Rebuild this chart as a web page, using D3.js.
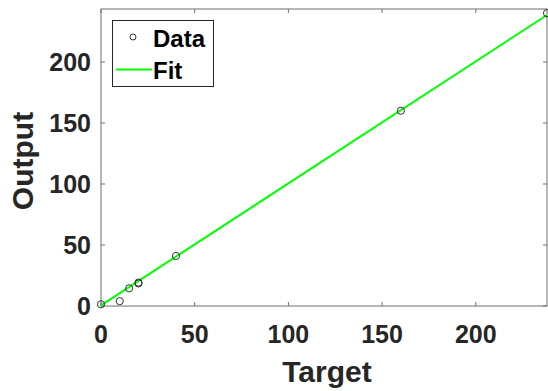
<!DOCTYPE html>
<html>
<head>
<meta charset="utf-8">
<script src="https://cdn.jsdelivr.net/npm/d3@7"></script>
<style>
  body { margin: 0; background: #fff; }
  text { font-family: "Liberation Sans", Arial, sans-serif; font-weight: bold; fill: #262626; }
</style>
</head>
<body>
<div id="chart"></div>
<script>
var targets = [0, 10, 15, 20, 20, 40, 160, 238];
var outputs = [1.4, 4, 14.5, 18.5, 19.2, 41, 160, 240];
var fitSlope = 1.0, fitIntercept = 0.5;
var xTicks = [0, 50, 100, 150, 200];
var yTicks = [0, 50, 100, 150, 200];
var xMax = 238, yMax = 243.4;

var width = 548, height = 391;
var plotL = 101, plotR = 547, plotT = 9, plotB = 306;

var svg = d3.select("#chart").append("svg")
    .attr("width", width)
    .attr("height", height);

var x = d3.scaleLinear().domain([0, xMax]).range([plotL, plotR]);
var y = d3.scaleLinear().domain([0, yMax]).range([plotB, plotT]);

var axisColor = "#6e6e6e";

// box
svg.append("rect")
    .attr("x", plotL).attr("y", plotT)
    .attr("width", plotR - plotL).attr("height", plotB - plotT)
    .attr("fill", "none").attr("stroke", axisColor).attr("stroke-width", 1);

// ticks (inside, all four sides)
var tl = 4;
xTicks.forEach(function(t) {
  svg.append("line").attr("x1", x(t)).attr("x2", x(t)).attr("y1", plotB).attr("y2", plotB - tl)
      .attr("stroke", axisColor);
  svg.append("line").attr("x1", x(t)).attr("x2", x(t)).attr("y1", plotT).attr("y2", plotT + tl)
      .attr("stroke", axisColor);
});
yTicks.forEach(function(t) {
  svg.append("line").attr("x1", plotL).attr("x2", plotL + tl).attr("y1", y(t)).attr("y2", y(t))
      .attr("stroke", axisColor);
  svg.append("line").attr("x1", plotR).attr("x2", plotR - tl).attr("y1", y(t)).attr("y2", y(t))
      .attr("stroke", axisColor);
});

// tick labels
svg.selectAll(".xt").data(xTicks).enter().append("text")
    .attr("x", function(d) { return x(d); })
    .attr("y", 343)
    .attr("text-anchor", "middle")
    .attr("font-size", "25px")
    .text(function(d) { return d; });

svg.selectAll(".yt").data(yTicks).enter().append("text")
    .attr("x", 91)
    .attr("y", function(d) { return y(d) + 9; })
    .attr("text-anchor", "end")
    .attr("font-size", "25px")
    .text(function(d) { return d; });

// axis labels
svg.append("text")
    .attr("x", 327).attr("y", 382)
    .attr("text-anchor", "middle")
    .attr("font-size", "30px")
    .text("Target");

svg.append("text")
    .attr("transform", "translate(33," + 161 + ") rotate(-90)")
    .attr("text-anchor", "middle")
    .attr("font-size", "30px")
    .text("Output");

// fit line
svg.append("line")
    .attr("x1", x(0)).attr("y1", y(fitIntercept))
    .attr("x2", x(xMax)).attr("y2", y(fitSlope * xMax + fitIntercept))
    .attr("stroke", "#00ff00").attr("stroke-width", 2);

// data points
svg.selectAll(".pt").data(targets).enter().append("circle")
    .attr("cx", function(d) { return x(d); })
    .attr("cy", function(d, i) { return y(outputs[i]); })
    .attr("r", 3.6)
    .attr("fill", "none")
    .attr("stroke", "#333")
    .attr("stroke-width", 1);

// legend
var lg = svg.append("g");
lg.append("rect")
    .attr("x", 112.5).attr("y", 20.5).attr("width", 101).attr("height", 66)
    .attr("fill", "#fff").attr("stroke", "#262626").attr("stroke-width", 1);
lg.append("circle")
    .attr("cx", 133).attr("cy", 37).attr("r", 3)
    .attr("fill", "none").attr("stroke", "#333");
lg.append("text")
    .attr("x", 153).attr("y", 47).attr("font-size", "24px").style("fill", "#000").text("Data");
lg.append("line")
    .attr("x1", 116).attr("x2", 152).attr("y1", 69.5).attr("y2", 69.5)
    .attr("stroke", "#00ff00").attr("stroke-width", 2);
lg.append("text")
    .attr("x", 153).attr("y", 78.5).attr("font-size", "24px").style("fill", "#000").text("Fit");
</script>
</body>
</html>
